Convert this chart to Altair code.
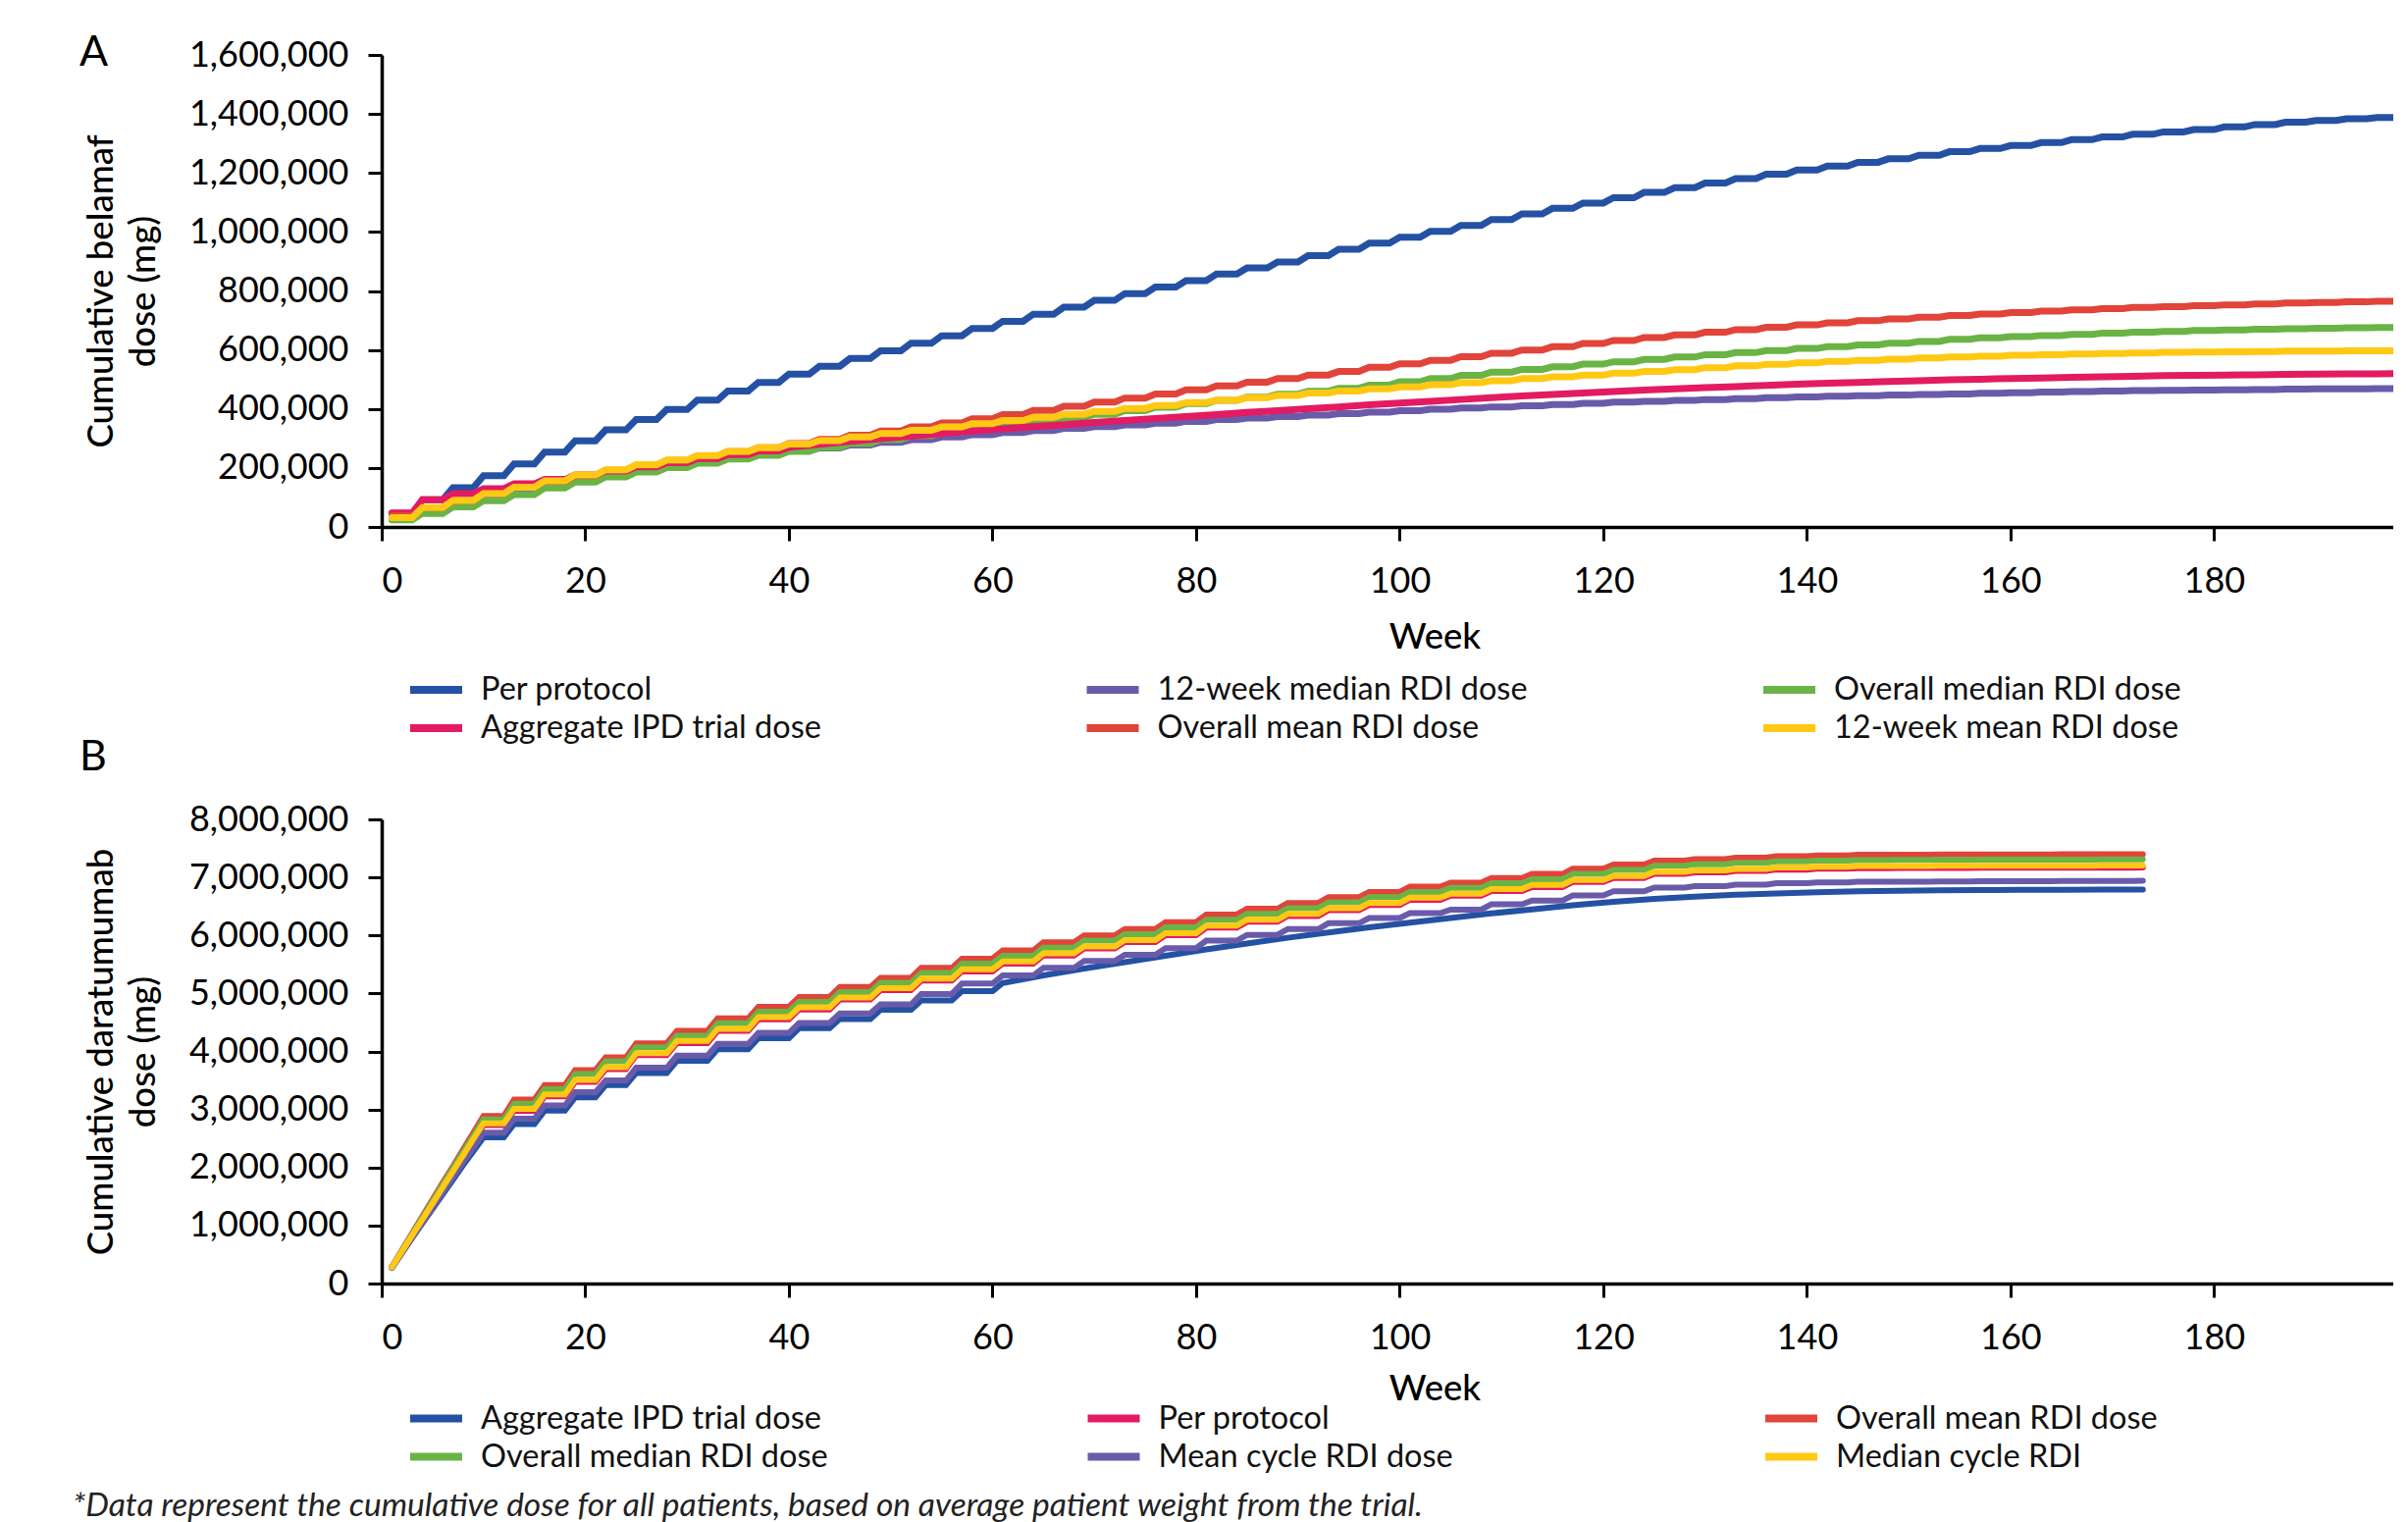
import altair as alt
import pandas as pd

FONT = "Lato"
INK = "#000000"

WEEK_TICKS = [0, 20, 40, 60, 80, 100, 120, 140, 160, 180]
X_MAX = 197.6          # the reference is cropped just before week 200

# ---------------- Panel A: belamaf (values in thousands of mg) ----------------
A_SERIES = ["Per protocol", "12-week median RDI dose", "Overall median RDI dose",
            "Aggregate IPD trial dose", "Overall mean RDI dose", "12-week mean RDI dose"]
A_COLORS = ["#2451A4", "#6A5BAA", "#6AB446", "#E31B62", "#E1443A", "#FFC814"]
A_YTICKS = [0, 200000, 400000, 600000, 800000, 1000000, 1200000, 1400000, 1600000]

A_WEEKS = [1, 4, 7, 10, 13, 16, 19, 22, 25, 28, 31, 34, 37, 40, 43, 46, 49, 52, 55, 58,
           61, 64, 67, 70, 73, 76, 79, 82, 85, 88, 91, 94, 97, 100, 103, 106, 109, 112,
           115, 118, 121, 124, 127, 130, 133, 136, 139, 142, 145, 148, 151, 154, 157,
           160, 163, 166, 169, 172, 175, 178, 181, 184, 187, 190, 193, 196, 199]

A_PER_PROTOCOL = [46, 92, 133, 174, 214, 254, 292, 329, 364, 398, 430, 461, 490, 518, 545,
                  571, 597, 623, 648, 673, 697, 721, 745, 768, 791, 813, 835, 857, 878, 898,
                  920, 941, 962, 982, 1002, 1022, 1042, 1061, 1080, 1098, 1116, 1134, 1150,
                  1166, 1181, 1196, 1210, 1223, 1236, 1248, 1260, 1272, 1283, 1293, 1303,
                  1313, 1322, 1331, 1339, 1347, 1356, 1364, 1372, 1378, 1384, 1388, 1392]
A_12W_MEDIAN = [28, 60, 86, 108, 128, 147, 165, 182, 198, 212, 225, 237, 248, 258, 268, 278,
                287, 296, 305, 313, 320, 327, 334, 340, 346, 352, 358, 364, 369, 374, 379,
                384, 389, 394, 399, 403, 407, 411, 415, 419, 423, 426, 429, 432, 435, 438,
                441, 443, 445, 447, 449, 451, 453, 455, 457, 459, 461, 462, 463, 464, 465,
                466, 467, 468, 468, 469, 469]
A_OVERALL_MEDIAN = [24, 46, 68, 89, 110, 132, 152, 170, 186, 201, 216, 230, 243, 256, 270,
                    283, 296, 309, 322, 334, 346, 358, 370, 382, 394, 406, 418, 429, 440, 450,
                    460, 470, 481, 492, 503, 514, 525, 534, 543, 552, 560, 568, 576, 584, 591,
                    598, 605, 611, 617, 623, 629, 636, 641, 645, 649, 653, 657, 660, 663, 666,
                    668, 670, 672, 674, 675, 676, 677]
A_AGGREGATE_IPD = [47, 92, 113, 130, 146, 161, 176, 190, 204, 218, 232, 245, 258, 270, 280,
                   290, 299, 308, 317, 325, 333, 340, 347, 354, 361, 368, 374, 381, 388, 394,
                   401, 407, 414, 420, 426, 432, 438, 444, 449, 454, 459, 464, 468, 472, 476,
                   480, 484, 487, 490, 493, 496, 499, 501, 503, 505, 507, 509, 511, 513, 514,
                   515, 516, 517, 518, 519, 519, 520]
A_OVERALL_MEAN = [38, 65, 90, 113, 135, 155, 174, 192, 209, 225, 240, 255, 269, 283, 297,
                  311, 325, 339, 353, 367, 381, 395, 409, 423, 437, 451, 465, 478, 491, 503,
                  515, 527, 541, 553, 565, 577, 589, 600, 611, 622, 632, 642, 651, 660, 669,
                  677, 685, 692, 699, 705, 711, 717, 722, 727, 732, 736, 740, 744, 747, 750,
                  753, 756, 759, 761, 763, 765, 767]
A_12W_MEAN = [32, 66, 90, 113, 135, 156, 176, 194, 211, 227, 242, 256, 269, 281, 293, 305,
              317, 328, 339, 350, 361, 372, 382, 392, 402, 412, 422, 430, 438, 446, 454, 461,
              468, 475, 482, 489, 496, 503, 509, 515, 521, 527, 533, 540, 546, 551, 556, 561,
              565, 569, 573, 576, 579, 582, 584, 586, 588, 590, 592, 593, 594, 595, 596, 596,
              597, 597, 597]
A_VALUES = [A_PER_PROTOCOL, A_12W_MEDIAN, A_OVERALL_MEDIAN, A_AGGREGATE_IPD,
            A_OVERALL_MEAN, A_12W_MEAN]
A_HOLD_UNTIL = [999, 999, 999, 40, 999, 999]

# ---------------- Panel B: daratumumab (values in millions of mg) ----------------
B_SERIES = ["Aggregate IPD trial dose", "Per protocol", "Overall mean RDI dose",
            "Overall median RDI dose", "Mean cycle RDI dose", "Median cycle RDI"]
B_COLORS = ["#2451A4", "#E31B62", "#E1443A", "#6AB446", "#6A5BAA", "#FFC814"]
B_YTICKS = [0, 1000000, 2000000, 3000000, 4000000, 5000000, 6000000, 7000000, 8000000]

B_WEEKS = [1, 2, 3, 4, 5, 6, 7, 8, 9, 10, 13, 16, 19, 22, 25, 29, 33, 37, 41, 45, 49, 53,
           57, 61, 65, 69, 73, 77, 81, 85, 89, 93, 97, 101, 105, 109, 113, 117, 121, 125,
           129, 133, 137, 141, 145, 149, 153, 157, 161, 165, 169, 173]

B_AGGREGATE_IPD = [0.27, 0.53, 0.79, 1.04, 1.29, 1.54, 1.79, 2.04, 2.28, 2.52, 2.75, 2.98,
                   3.21, 3.42, 3.63, 3.84, 4.04, 4.23, 4.40, 4.56, 4.72, 4.88, 5.04, 5.18,
                   5.31, 5.43, 5.54, 5.65, 5.76, 5.86, 5.96, 6.05, 6.14, 6.22, 6.30, 6.38,
                   6.45, 6.52, 6.58, 6.63, 6.67, 6.70, 6.725, 6.745, 6.76, 6.77, 6.777,
                   6.782, 6.786, 6.788, 6.79, 6.79]
B_PER_PROTOCOL = [0.28, 0.55, 0.82, 1.09, 1.36, 1.64, 1.91, 2.18, 2.45, 2.73, 2.975, 3.225,
                  3.475, 3.695, 3.935, 4.145, 4.355, 4.555, 4.725, 4.895, 5.055, 5.22, 5.38,
                  5.515, 5.655, 5.775, 5.885, 6.005, 6.135, 6.235, 6.335, 6.435, 6.525,
                  6.615, 6.685, 6.765, 6.835, 6.92, 6.99, 7.06, 7.085, 7.11, 7.135, 7.15,
                  7.16, 7.162, 7.164, 7.165, 7.166, 7.167, 7.168, 7.17]
B_OVERALL_MEAN = [0.29, 0.58, 0.87, 1.16, 1.45, 1.74, 2.02, 2.31, 2.60, 2.89, 3.17, 3.42,
                  3.68, 3.90, 4.14, 4.355, 4.57, 4.77, 4.94, 5.11, 5.27, 5.44, 5.60, 5.74,
                  5.88, 6.00, 6.11, 6.23, 6.36, 6.46, 6.56, 6.66, 6.75, 6.84, 6.91, 6.99,
                  7.06, 7.15, 7.22, 7.29, 7.315, 7.34, 7.365, 7.38, 7.39, 7.392, 7.394,
                  7.396, 7.397, 7.398, 7.399, 7.40]
B_OVERALL_MEDIAN = [0.285, 0.57, 0.855, 1.14, 1.42, 1.71, 1.99, 2.27, 2.55, 2.83, 3.10,
                    3.35, 3.61, 3.83, 4.07, 4.27, 4.485, 4.685, 4.855, 5.025, 5.185, 5.355,
                    5.515, 5.65, 5.79, 5.91, 6.02, 6.14, 6.27, 6.37, 6.47, 6.57, 6.66, 6.75,
                    6.82, 6.90, 6.97, 7.06, 7.13, 7.20, 7.225, 7.25, 7.275, 7.29, 7.30,
                    7.302, 7.304, 7.306, 7.307, 7.308, 7.309, 7.31]
B_MEAN_CYCLE = [0.27, 0.53, 0.79, 1.05, 1.31, 1.57, 1.83, 2.09, 2.34, 2.60, 2.84, 3.07,
                3.30, 3.50, 3.72, 3.93, 4.13, 4.32, 4.49, 4.655, 4.81, 4.99, 5.17, 5.31,
                5.44, 5.56, 5.665, 5.78, 5.91, 6.01, 6.11, 6.21, 6.30, 6.385, 6.445, 6.535,
                6.60, 6.69, 6.76, 6.825, 6.85, 6.875, 6.90, 6.915, 6.925, 6.928, 6.931,
                6.934, 6.936, 6.938, 6.94, 6.942]
B_MEDIAN_CYCLE = [0.28, 0.555, 0.83, 1.105, 1.38, 1.66, 1.935, 2.21, 2.49, 2.76, 3.01,
                  3.26, 3.51, 3.73, 3.97, 4.18, 4.39, 4.59, 4.76, 4.93, 5.09, 5.255, 5.415,
                  5.55, 5.69, 5.81, 5.92, 6.04, 6.17, 6.27, 6.37, 6.47, 6.56, 6.65, 6.72,
                  6.80, 6.87, 6.955, 7.025, 7.095, 7.12, 7.145, 7.17, 7.185, 7.195, 7.197,
                  7.199, 7.20, 7.201, 7.202, 7.203, 7.205]
B_VALUES = [B_AGGREGATE_IPD, B_PER_PROTOCOL, B_OVERALL_MEAN, B_OVERALL_MEDIAN,
            B_MEAN_CYCLE, B_MEDIAN_CYCLE]
B_HOLD_UNTIL = [60, 999, 999, 999, 999, 999]

FOOTNOTE = ("*Data represent the cumulative dose for all patients, based on average "
            "patient weight from the trial.")


def build_rows(series_names, weeks, values_list, unit, hold_list, end_week):
    """Cumulative dose only changes on dosing weeks: the value is carried
    until the week before the next dose."""
    rows = []
    for name, vals, hold in zip(series_names, values_list, hold_list):
        n = len(weeks)
        for i in range(n):
            w, v = weeks[i], vals[i] * unit
            rows.append({"series": name, "week": w, "dose": v})
            if i + 1 < n:
                nxt = weeks[i + 1]
                if w < hold and nxt - 1 > w:
                    rows.append({"series": name, "week": nxt - 1, "dose": v})
            elif end_week is not None and end_week > w:
                rows.append({"series": name, "week": end_week, "dose": v})
    return pd.DataFrame(rows)


df_a = build_rows(A_SERIES, A_WEEKS, A_VALUES, 1000, A_HOLD_UNTIL, 200)
df_b = build_rows(B_SERIES, B_WEEKS, B_VALUES, 1000000, B_HOLD_UNTIL, None)


def panel(df, series, colors, ymax, yticks, ytitle, letter, width, height,
          stroke_w, legend_y, col_pad, xtitle_pad, letter_dy):
    legend = alt.Legend(
        title=None, orient="none", legendX=25, legendY=legend_y, columns=3,
        direction="horizontal", symbolType="stroke", symbolSize=2809,
        symbolStrokeWidth=8, labelFont=FONT, labelFontSize=32.5, labelColor="#111111",
        labelOffset=15, columnPadding=col_pad, rowPadding=3, clipHeight=36,
        gridAlign="all", padding=0, labelLimit=700,
    )
    return alt.Chart(
        df,
        title=alt.Title(letter, anchor="start", frame="group", dx=-308, dy=letter_dy,
                        fontSize=43, font=FONT, fontWeight="normal", color=INK,
                        offset=0),
    ).mark_line(strokeWidth=stroke_w, strokeCap="round", strokeJoin="miter",
                clip=True).encode(
        x=alt.X("week:Q",
                scale=alt.Scale(domain=[0, X_MAX], nice=False, zero=False),
                axis=alt.Axis(values=WEEK_TICKS, title="Week", titleX=1073,
                              titlePadding=xtitle_pad, titleFontWeight=500)),
        y=alt.Y("dose:Q",
                scale=alt.Scale(domain=[0, ymax], nice=False),
                axis=alt.Axis(values=yticks, format=",.0f", title=ytitle,
                              titleLineHeight=43, titlePadding=27,
                              titleFontWeight=500)),
        color=alt.Color("series:N", sort=series,
                        scale=alt.Scale(domain=series, range=colors),
                        legend=legend),
    ).properties(width=width, height=height)


chart_a = panel(df_a, A_SERIES, A_COLORS, 1600000, A_YTICKS,
                ["Cumulative belamaf", "dose (mg)"], "A", 2050, 481, 7, 629, 235.5,
                21, 38)
chart_b = panel(df_b, B_SERIES, B_COLORS, 8000000, B_YTICKS,
                ["Cumulative daratumumab", "dose (mg)"], "B", 2050, 473, 6, 592.5,
                260.5, 16, -23.5)

chart = alt.vconcat(chart_a, chart_b, spacing=-10).resolve_scale(
    color="independent"
).properties(
    title=alt.Title(FOOTNOTE, orient="bottom", anchor="start", fontSize=33.5, font=FONT,
                    fontStyle="italic", fontWeight="normal", color="#222222", offset=16,
                    dx=-7),
    padding={"left": 66, "top": 25, "right": 0, "bottom": 0},
).configure_view(stroke=None).configure_axis(
    grid=False, domainColor=INK, domainWidth=3.5, tickColor=INK, tickWidth=3,
    tickSize=14, labelFont=FONT, labelFontSize=36, labelColor=INK,
    titleFont=FONT, titleFontSize=36.5, titleColor=INK,
).configure_axisX(labelPadding=24).configure_axisY(labelPadding=20)

chart.save("out.html", embed_options={"renderer": "svg", "actions": False})
